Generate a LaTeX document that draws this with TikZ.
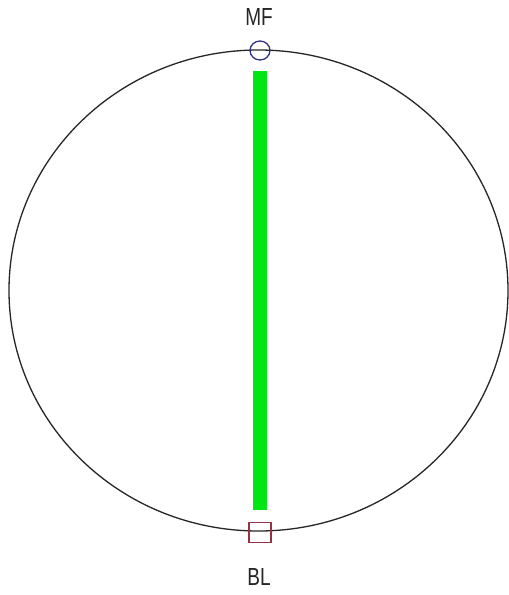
\documentclass[tikz,border=0pt]{standalone}
\usepackage{fontspec}
\setmainfont{Liberation Sans}
\definecolor{barg}{RGB}{0,230,20}
\definecolor{mfblue}{RGB}{50,50,130}
\definecolor{blred}{RGB}{150,50,70}
\begin{document}
\begin{tikzpicture}[x=1pt,y=-1pt,
  ring/.style={draw=black!85,line width=1.3pt},
  bar/.style={fill=barg,draw=none},
  blmark/.style={draw=blred,line width=1.3pt,rectangle,inner sep=0pt,minimum width=22pt,minimum height=20pt},
  lbl/.style={font=\fontsize{19}{19}\selectfont,yscale=1.3,inner sep=0pt,text=black!85}]
\useasboundingbox (0,0) rectangle (509,595);
\fill[white] (0,0) rectangle (509,595);
\draw[ring] (258.5,290.5) ellipse [x radius=249.5, y radius=240.5];
\node[bar,minimum width=14pt,minimum height=439pt,inner sep=0pt] (bar) at (260,290.5) {};
\draw[mfblue,line width=1.3pt] (260,50.5) ellipse [x radius=10, y radius=9.5];
\coordinate (mf) at (260,50.5);
\node[blmark] (bl) at (260,532.5) {};
\node[lbl] (mft) at (259,16.5) {MF};
\node[lbl] (blt) at (259,576.5) {BL};
\end{tikzpicture}
\end{document}
